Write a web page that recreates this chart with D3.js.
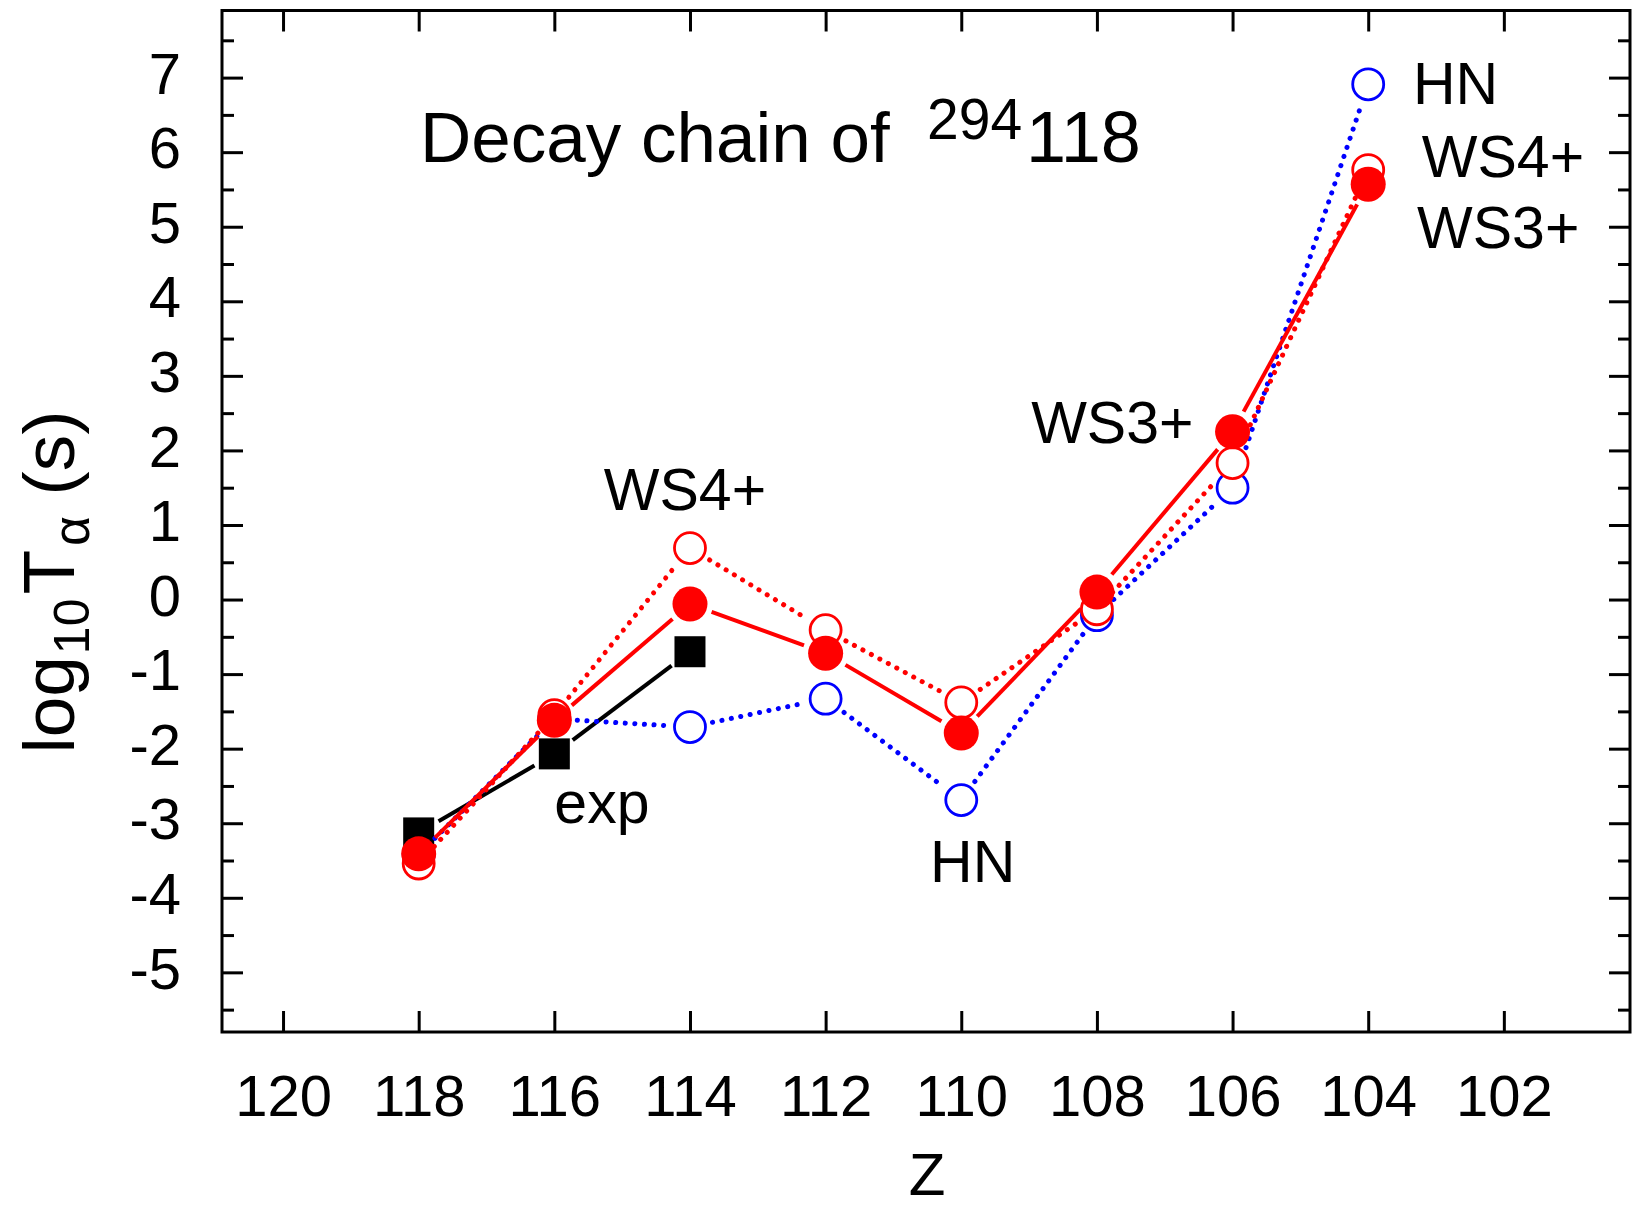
<!DOCTYPE html>
<html>
<head>
<meta charset="utf-8">
<script src="https://cdn.jsdelivr.net/npm/d3@7"></script>
<style>
  body { margin: 0; background: #fff; }
  svg text { font-family: "Liberation Sans", Arial, sans-serif; fill: #000; }
</style>
</head>
<body>
<div id="chart"></div>
<script>
// Z of each nucleus in the chain
const zAll = [118, 116, 114, 112, 110, 108, 106, 104];
const zExp = [118, 116, 114];

// log10 T_alpha (s)
const expVals = [-3.13, -2.07, -0.70];
const hnVals = [-3.42, -1.60, -1.71, -1.33, -2.69, -0.21, 1.50, 6.91];
const ws4Vals = [-3.54, -1.55, 0.69, -0.41, -1.38, -0.13, 1.83, 5.76];
const ws3Vals = [-3.41, -1.62, -0.06, -0.72, -1.79, 0.10, 2.25, 5.57];

const xTicks = [120, 118, 116, 114, 112, 110, 108, 106, 104, 102];
const yTicks = [-5, -4, -3, -2, -1, 0, 1, 2, 3, 4, 5, 6, 7];

// text labels placed in data coordinates
const labels = [
  { text: "HN", z: 103.34, v: 6.65 },
  { text: "WS4+", z: 103.21, v: 5.67 },
  { text: "WS3+", z: 103.28, v: 4.71 },
  { text: "WS3+", z: 108.97, v: 2.10 },
  { text: "WS4+", z: 115.27, v: 1.20 },
  { text: "exp", z: 116.0, v: -3.00 },
  { text: "HN", z: 110.46, v: -3.79 }
];

const W = 1633, H = 1209;
const mLeft = 222, mRight = 1630, mTop = 10.5, mBottom = 1032;

const svg = d3.select("#chart").append("svg")
  .attr("width", W).attr("height", H);

const x = d3.scaleLinear().domain([120.9, 100.14]).range([mLeft, mRight]);
const y = d3.scaleLinear().domain([-5.8, 7.9]).range([mBottom, mTop]);

const minorY = d3.range(-5.5, 7.9, 0.5).filter(v => !Number.isInteger(v));

// axes, ticks pointing inward
function styleAxis(g) {
  g.select(".domain").remove();
  g.selectAll(".tick line").attr("stroke", "#000").attr("stroke-width", 3);
}

svg.append("g").attr("transform", `translate(0,${mBottom})`)
  .call(d3.axisBottom(x).tickValues(xTicks).tickSize(-21).tickFormat(d3.format("d")))
  .call(styleAxis)
  .call(g => g.selectAll("text").attr("y", 84).attr("dy", null)
    .style("font-size", "58px"));

svg.append("g").attr("transform", `translate(0,${mTop})`)
  .call(d3.axisTop(x).tickValues(xTicks).tickSize(-21).tickFormat(""))
  .call(styleAxis);

svg.append("g").attr("transform", `translate(${mLeft},0)`)
  .call(d3.axisLeft(y).tickValues(yTicks).tickSize(-21).tickPadding(41).tickFormat(d => String(d)))
  .call(styleAxis)
  .call(g => g.selectAll("text").attr("dy", "0.27em").style("font-size", "58px"));

svg.append("g").attr("transform", `translate(${mLeft},0)`)
  .call(d3.axisLeft(y).tickValues(minorY).tickSize(-12).tickFormat(""))
  .call(styleAxis);

svg.append("g").attr("transform", `translate(${mRight},0)`)
  .call(d3.axisRight(y).tickValues(yTicks).tickSize(-21).tickFormat(""))
  .call(styleAxis);

svg.append("g").attr("transform", `translate(${mRight},0)`)
  .call(d3.axisRight(y).tickValues(minorY).tickSize(-12).tickFormat(""))
  .call(styleAxis);

svg.append("rect")
  .attr("x", mLeft).attr("y", mTop)
  .attr("width", mRight - mLeft).attr("height", mBottom - mTop)
  .attr("fill", "none").attr("stroke", "#000").attr("stroke-width", 3);

// connecting segments broken at the symbols (Origin style)
function segments(zs, vs, gap) {
  const pts = zs.map((z, i) => [x(z), y(vs[i])]);
  return d3.pairs(pts).map(([a, b]) => {
    const dx = b[0] - a[0], dy = b[1] - a[1];
    const len = Math.hypot(dx, dy);
    const ux = dx / len, uy = dy / len;
    return { x1: a[0] + ux * gap, y1: a[1] + uy * gap, x2: b[0] - ux * gap, y2: b[1] - uy * gap, len: len };
  }).filter(s => s.len > 2 * gap);
}

function drawLine(zs, vs, color, dotted) {
  svg.append("g").selectAll("line")
    .data(segments(zs, vs, 23))
    .join("line")
    .attr("x1", d => d.x1).attr("y1", d => d.y1)
    .attr("x2", d => d.x2).attr("y2", d => d.y2)
    .attr("stroke", color)
    .attr("stroke-width", dotted ? 5 : 4)
    .attr("stroke-linecap", dotted ? "round" : "butt")
    .attr("stroke-dasharray", dotted ? "0.1 9.5" : null);
}

// exp
drawLine(zExp, expVals, "#000", false);
svg.append("g").selectAll("rect")
  .data(zExp.map((z, i) => [z, expVals[i]]))
  .join("rect")
  .attr("x", d => x(d[0]) - 15.5).attr("y", d => y(d[1]) - 15.5)
  .attr("width", 31).attr("height", 31)
  .attr("fill", "#000");

// HN
drawLine(zAll, hnVals, "#0000ff", true);
svg.append("g").selectAll("circle")
  .data(zAll.map((z, i) => [z, hnVals[i]]))
  .join("circle")
  .attr("cx", d => x(d[0])).attr("cy", d => y(d[1])).attr("r", 15.5)
  .attr("fill", "#fff").attr("stroke", "#0000ff").attr("stroke-width", 2.8);

// WS4+
drawLine(zAll, ws4Vals, "#ff0000", true);
svg.append("g").selectAll("circle")
  .data(zAll.map((z, i) => [z, ws4Vals[i]]))
  .join("circle")
  .attr("cx", d => x(d[0])).attr("cy", d => y(d[1])).attr("r", 15.5)
  .attr("fill", "#fff").attr("stroke", "#ff0000").attr("stroke-width", 2.8);

// WS3+
drawLine(zAll, ws3Vals, "#ff0000", false);
svg.append("g").selectAll("circle")
  .data(zAll.map((z, i) => [z, ws3Vals[i]]))
  .join("circle")
  .attr("cx", d => x(d[0])).attr("cy", d => y(d[1])).attr("r", 17.5)
  .attr("fill", "#ff0000");

// labels
svg.append("g").selectAll("text")
  .data(labels)
  .join("text")
  .attr("x", d => x(d.z)).attr("y", d => y(d.v))
  .style("font-size", "59px")
  .text(d => d.text);

// title
const title = svg.append("text").attr("y", 162).style("font-size", "71px");
title.append("tspan").attr("x", 420).text("Decay chain of");
title.append("tspan").attr("x", 927).attr("y", 139).style("font-size", "57px").text("294");
title.append("tspan").attr("x", 1026).attr("y", 162).style("font-size", "72px").text("118");

// axis titles
svg.append("text")
  .attr("x", 927).attr("y", 1195)
  .attr("text-anchor", "middle")
  .style("font-size", "60px")
  .text("Z");

const yl = svg.append("text")
  .attr("transform", "translate(74,582) rotate(-90)")
  .attr("text-anchor", "middle")
  .style("font-size", "73px");
yl.append("tspan").text("log");
yl.append("tspan").attr("dy", 15).attr("dx", 2).style("font-size", "50px").text("10");
yl.append("tspan").attr("dy", -15).attr("dx", 4).text("T");
yl.append("tspan").attr("dy", 15).attr("dx", 4).style("font-size", "52px").text("α");
yl.append("tspan").attr("dy", -15).text(" (s)");
</script>
</body>
</html>
